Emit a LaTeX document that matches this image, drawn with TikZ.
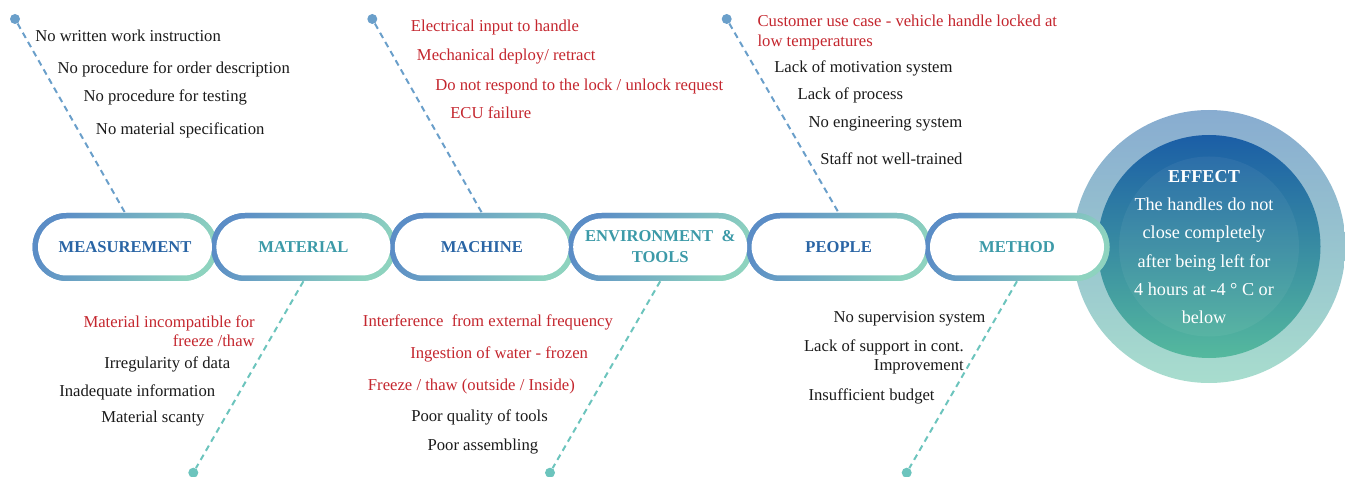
\documentclass[tikz,border=0pt]{standalone}
\usepackage{fontspec}
\setmainfont{Liberation Serif}
\usetikzlibrary{shapes.misc}
\definecolor{pillblue}{HTML}{5B8DC6}
\definecolor{pillteal}{HTML}{8ED3BF}
\definecolor{topline}{HTML}{6A9FCA}
\definecolor{botline}{HTML}{6CC4BD}
\definecolor{causered}{HTML}{C4262E}
\definecolor{causeblack}{HTML}{1A1A1A}
\definecolor{hdrblue}{HTML}{2A65A5}
\definecolor{hdrteal}{HTML}{3C9AA8}
\definecolor{ringtop}{HTML}{88ACD0}
\definecolor{ringbot}{HTML}{A8DDCE}
\definecolor{disctop}{HTML}{1B5EA6}
\definecolor{discbot}{HTML}{55B99E}
\begin{document}
\begin{tikzpicture}[x=0.75pt,y=-0.75pt,
  pillring/.style={rounded rectangle, minimum width=138.75pt, minimum height=51pt,
    inner sep=0pt, top color=pillblue, bottom color=pillteal, shading angle=60},
  pillface/.style={rounded rectangle, minimum width=130.5pt, minimum height=42.75pt,
    inner sep=0pt, fill=white, align=center, font=\fontsize{12.45}{15.75}\selectfont\bfseries},
  topdot/.style={circle, fill=topline, minimum size=7.5pt, inner sep=0pt},
  botdot/.style={circle, fill=botline, minimum size=7.5pt, inner sep=0pt},
  topdash/.style={draw=topline, line width=1.5pt, dash pattern=on 4.5pt off 3.4pt},
  botdash/.style={draw=botline, line width=1.5pt, dash pattern=on 4.5pt off 3.4pt},
  cause/.style={inner sep=0pt, font=\fontsize{12.5}{15}\selectfont},
  redcause/.style={cause, text=causered},
  blackcause/.style={cause, text=causeblack}
]
\useasboundingbox (0,0) rectangle (1345,477);

% effect circle
\node[circle, minimum size=204.75pt, inner sep=0pt, top color=ringtop, bottom color=ringbot] (ring) at (1209,246.5) {};
\node[circle, minimum size=167.25pt, inner sep=0pt, top color=disctop, bottom color=discbot] (disc) at (1209,246.5) {};
\fill[white, opacity=0.05] (disc.center) circle [radius=90];

% end points of the bones
\node[topdot] (d1) at (15,19) {};
\node[topdot] (d3) at (372.3,19) {};
\node[topdot] (d5) at (726.7,19) {};
\node[botdot] (d2) at (193.3,472.7) {};
\node[botdot] (d4) at (550,472.7) {};
\node[botdot] (d6) at (906.7,472.7) {};

% category pills
\foreach \i/\cx in {1/125,2/303.4,3/481.8,4/660.2,5/838.6,6/1017}
  \node[pillring] (r\i) at (\cx,247) {};

\draw[topdash] (d1) -- (r1.north);
\draw[topdash] (d3) -- (r3.north);
\draw[topdash] (d5) -- (r5.north);
\draw[botdash] (r2.south) -- (d2);
\draw[botdash] (r4.south) -- (d4);
\draw[botdash] (r6.south) -- (d6);

\foreach \i in {1,...,6}
  \node[pillring] (q\i) at (r\i.center) {};
\node[pillface, text=hdrblue] (p1) at (r1.center) {MEASUREMENT};
\node[pillface, text=hdrteal] (p2) at (r2.center) {MATERIAL};
\node[pillface, text=hdrblue] (p3) at (r3.center) {MACHINE};
\node[pillface, text=hdrteal] (p4) at (r4.center) {ENVIRONMENT \ \&\\TOOLS};
\node[pillface, text=hdrblue] (p5) at (r5.center) {PEOPLE};
\node[pillface, text=hdrteal] (p6) at (r6.center) {METHOD};

% effect text
\node[inner sep=0pt, anchor=north, text=white, align=center,
  font=\fontsize{13.65}{21.15}\selectfont] (effect) at (1204,170.2)
  {\textbf{EFFECT}\\The handles do not\\close completely\\after being left for\\4 hours at -4 ° C or\\below};

% measurement causes
\node[blackcause, anchor=base west] (m1) at (35,42) {No written work instruction};
\node[blackcause, anchor=base west] (m2) at (57.3,74) {No procedure for order description};
\node[blackcause, anchor=base west] (m3) at (83.3,101.7) {No procedure for testing};
\node[blackcause, anchor=base west] (m4) at (95.7,135) {No material specification};

% machine causes
\node[redcause, anchor=base west] (c1) at (410.7,32) {Electrical input to handle};
\node[redcause, anchor=base west] (c2) at (416.7,61) {Mechanical deploy/ retract};
\node[redcause, anchor=base west] (c3) at (435,90.7) {Do not respond to the lock / unlock request};
\node[redcause, anchor=base west] (c4) at (450,118.7) {ECU failure};

% people causes
\node[redcause, anchor=north west, align=left, font=\fontsize{12.5}{15}\selectfont] (e1) at (757.3,14.6)
  {Customer use case - vehicle handle locked at\\low temperatures};
\node[blackcause, anchor=base west] (e2) at (774,72.3) {Lack of motivation system};
\node[blackcause, anchor=base west] (e3) at (797.3,100) {Lack of process};
\node[blackcause, anchor=base west] (e4) at (808.3,127.7) {No engineering system};
\node[blackcause, anchor=base west] (e5) at (820,164.3) {Staff not well-trained};

% material causes
\node[redcause, anchor=north east, align=right, font=\fontsize{12.5}{14.25}\selectfont] (a1) at (255,315.3)
  {Material incompatible for\\freeze /thaw};
\node[blackcause, anchor=base west] (a2) at (104,368.3) {Irregularity of data};
\node[blackcause, anchor=base west] (a3) at (59,396.7) {Inadequate information};
\node[blackcause, anchor=base west] (a4) at (101,422.7) {Material scanty};

% environment & tools causes
\node[redcause, anchor=base west] (v1) at (362.7,326.7) {Interference \ from external frequency};
\node[redcause, anchor=base west] (v2) at (410,358.3) {Ingestion of water - frozen};
\node[redcause, anchor=base west] (v3) at (367.7,390) {Freeze / thaw (outside / Inside)};
\node[blackcause, anchor=base west] (v4) at (411,421.7) {Poor quality of tools};
\node[blackcause, anchor=base west] (v5) at (427.3,450) {Poor assembling};

% method causes
\node[blackcause, anchor=base west] (h1) at (833.3,322.3) {No supervision system};
\node[blackcause, anchor=north east, align=right, font=\fontsize{12.5}{14.5}\selectfont] (h2) at (964,339.3)
  {Lack of support in cont.\\Improvement};
\node[blackcause, anchor=base west] (h3) at (808.3,400) {Insufficient budget};
\end{tikzpicture}
\end{document}
